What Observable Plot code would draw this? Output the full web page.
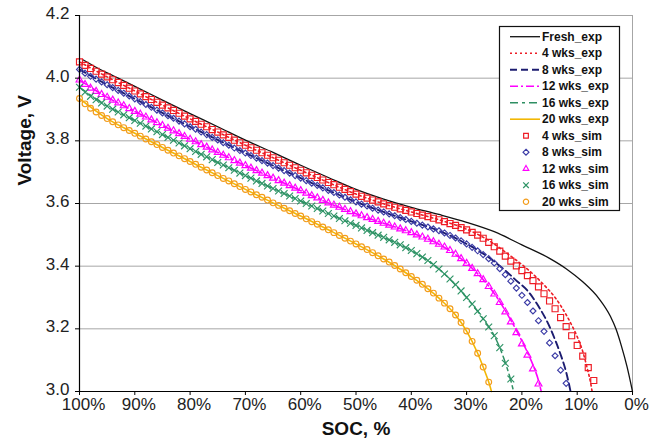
<!DOCTYPE html>
<html><head><meta charset="utf-8">
<script src="https://cdn.jsdelivr.net/npm/d3@7"></script>
<script src="https://cdn.jsdelivr.net/npm/@observablehq/plot@0.6"></script>
<style>
html,body{margin:0;padding:0;background:#fff;}
#chart{width:664px;height:448px;}
</style></head>
<body><div id="chart"></div>
<script>
// ---- axis ticks / titles ----
const xTickValues = [100, 90, 80, 70, 60, 50, 40, 30, 20, 10, 0];
const yTickValues = [3.0, 3.2, 3.4, 3.6, 3.8, 4.0, 4.2];
const xTitle = "SOC, %";
const yTitle = "Voltage, V";
const legendLabels = ["Fresh_exp", "4 wks_exp", "8 wks_exp", "12 wks_exp", "16 wks_exp", "20 wks_exp",
  "4 wks_sim", "8 wks_sim", "12 wks_sim", "16 wks_sim", "20 wks_sim"];

// ---- experimental curves (SOC %, voltage V) ----
const freshSOC = [99.3, 97, 95, 93, 90, 85, 80, 75, 70, 65, 60, 55, 50, 45, 40, 35, 30, 25, 20, 15, 12, 9, 6, 4, 3, 2, 1, 0];
const freshV   = [4.058, 4.035, 4.017, 4.000, 3.974, 3.930, 3.887, 3.845, 3.802, 3.763, 3.722, 3.683, 3.645, 3.614, 3.588, 3.565, 3.540, 3.510, 3.468, 3.425, 3.392, 3.350, 3.295, 3.240, 3.200, 3.145, 3.080, 3.000];

const exp4SOC = [100, 95, 90, 85, 80, 75, 70, 65, 60, 55, 50, 45, 40, 35, 30, 26, 22, 20, 18, 16, 14, 12, 11, 10, 9, 8.2, 7.6, 7.3];
const exp4V   = [4.052, 4.004, 3.959, 3.914, 3.870, 3.828, 3.786, 3.746, 3.706, 3.667, 3.630, 3.599, 3.573, 3.548, 3.518, 3.482, 3.432, 3.405, 3.375, 3.340, 3.300, 3.245, 3.212, 3.175, 3.128, 3.075, 3.030, 3.000];

const exp8SOC = [100, 95, 90, 85, 80, 75, 70, 65, 60, 55, 50, 45, 40, 35, 30, 27, 25, 23, 21, 19, 17, 15, 14, 13, 12, 11.5, 11.2];
const exp8V   = [4.028, 3.979, 3.934, 3.889, 3.845, 3.803, 3.761, 3.721, 3.681, 3.642, 3.605, 3.573, 3.543, 3.513, 3.471, 3.440, 3.415, 3.386, 3.354, 3.322, 3.272, 3.207, 3.165, 3.118, 3.062, 3.025, 3.000];

const exp12SOC = [100, 95, 90, 85, 80, 75, 70, 65, 60, 55, 50, 45, 40, 35, 30, 27, 25, 23, 21, 19, 18, 17, 16.5];
const exp12V   = [3.994, 3.939, 3.894, 3.849, 3.805, 3.763, 3.721, 3.681, 3.641, 3.602, 3.567, 3.537, 3.507, 3.470, 3.409, 3.357, 3.313, 3.258, 3.195, 3.125, 3.085, 3.035, 3.000];

const exp16SOC = [100, 95, 90, 85, 80, 75, 70, 65, 60, 55, 50, 45, 40, 35, 30, 27, 25, 24, 23, 22, 21.5];
const exp16V   = [3.971, 3.911, 3.865, 3.820, 3.775, 3.731, 3.689, 3.648, 3.608, 3.568, 3.530, 3.492, 3.450, 3.391, 3.300, 3.232, 3.178, 3.140, 3.092, 3.035, 3.000];

const exp20SOC = [100, 95, 90, 85, 80, 75, 70, 65, 60, 55, 50, 45, 40, 35, 32, 30, 28, 27, 26, 25.5];
const exp20V   = [3.935, 3.871, 3.824, 3.779, 3.734, 3.689, 3.645, 3.602, 3.560, 3.516, 3.471, 3.423, 3.367, 3.298, 3.244, 3.193, 3.122, 3.078, 3.030, 3.000];

// ---- simulated points: voltage at SOC = 100%, 99%, 98%, ... ----
const sim4V = [
 4.052, 4.041, 4.031, 4.022, 4.013, 4.004, 3.995, 3.986, 3.977, 3.968, 3.959,
 3.950, 3.941, 3.932, 3.923, 3.914, 3.905, 3.897, 3.888, 3.879, 3.870,
 3.862, 3.853, 3.845, 3.836, 3.828, 3.819, 3.811, 3.802, 3.794, 3.786,
 3.778, 3.770, 3.762, 3.754, 3.746, 3.738, 3.730, 3.722, 3.714, 3.706,
 3.698, 3.690, 3.683, 3.675, 3.667, 3.660, 3.652, 3.645, 3.638, 3.630,
 3.623, 3.617, 3.611, 3.605, 3.599, 3.593, 3.588, 3.583, 3.578, 3.573,
 3.568, 3.563, 3.558, 3.553, 3.548, 3.542, 3.536, 3.530, 3.523, 3.516,
 3.508, 3.499, 3.489, 3.476, 3.462, 3.448, 3.432, 3.416, 3.401, 3.386,
 3.370, 3.354, 3.334, 3.312, 3.289, 3.264, 3.236, 3.207, 3.178, 3.147,
 3.113, 3.076, 3.035];
const sim8V = [
 4.028, 4.016, 4.006, 3.997, 3.988, 3.979, 3.970, 3.961, 3.952, 3.943, 3.934,
 3.925, 3.916, 3.907, 3.898, 3.889, 3.880, 3.872, 3.863, 3.854, 3.845,
 3.837, 3.828, 3.820, 3.811, 3.803, 3.794, 3.786, 3.777, 3.769, 3.761,
 3.753, 3.745, 3.737, 3.729, 3.721, 3.713, 3.705, 3.697, 3.689, 3.681,
 3.673, 3.665, 3.658, 3.650, 3.642, 3.635, 3.627, 3.620, 3.612, 3.605,
 3.598, 3.592, 3.585, 3.579, 3.573, 3.567, 3.561, 3.555, 3.549, 3.543,
 3.537, 3.531, 3.525, 3.519, 3.513, 3.506, 3.498, 3.490, 3.481, 3.471,
 3.460, 3.449, 3.437, 3.424, 3.410, 3.392, 3.373, 3.352, 3.330, 3.307,
 3.284, 3.257, 3.226, 3.192, 3.155, 3.114, 3.068, 3.026];
const sim12V = [
 3.994, 3.980, 3.968, 3.958, 3.948, 3.939, 3.930, 3.921, 3.912, 3.903, 3.894,
 3.885, 3.876, 3.867, 3.858, 3.849, 3.840, 3.832, 3.823, 3.814, 3.805,
 3.797, 3.788, 3.780, 3.771, 3.763, 3.754, 3.746, 3.737, 3.729, 3.721,
 3.713, 3.705, 3.697, 3.689, 3.681, 3.673, 3.665, 3.657, 3.649, 3.641,
 3.633, 3.625, 3.618, 3.610, 3.602, 3.595, 3.588, 3.581, 3.574, 3.567,
 3.561, 3.555, 3.549, 3.543, 3.537, 3.531, 3.525, 3.519, 3.513, 3.507,
 3.500, 3.493, 3.486, 3.478, 3.470, 3.461, 3.450, 3.438, 3.424, 3.409,
 3.393, 3.376, 3.357, 3.335, 3.311, 3.284, 3.254, 3.222, 3.188, 3.152,
 3.116, 3.072, 3.024];
const sim16V = [
 3.971, 3.955, 3.942, 3.931, 3.921, 3.911, 3.901, 3.892, 3.883, 3.874, 3.865,
 3.856, 3.847, 3.838, 3.829, 3.820, 3.811, 3.802, 3.793, 3.784, 3.775,
 3.766, 3.757, 3.749, 3.740, 3.731, 3.723, 3.714, 3.706, 3.697, 3.689,
 3.681, 3.672, 3.664, 3.656, 3.648, 3.640, 3.632, 3.624, 3.616, 3.608,
 3.600, 3.592, 3.584, 3.576, 3.568, 3.560, 3.552, 3.545, 3.537, 3.530,
 3.522, 3.514, 3.507, 3.499, 3.492, 3.484, 3.476, 3.468, 3.459, 3.450,
 3.440, 3.429, 3.418, 3.405, 3.391, 3.375, 3.359, 3.341, 3.321, 3.300,
 3.279, 3.256, 3.232, 3.206, 3.178, 3.140, 3.090, 3.040];
const sim20V = [
 3.935, 3.918, 3.904, 3.892, 3.881, 3.871, 3.861, 3.851, 3.842, 3.833, 3.824,
 3.815, 3.806, 3.797, 3.788, 3.779, 3.770, 3.761, 3.752, 3.743, 3.734,
 3.725, 3.716, 3.707, 3.698, 3.689, 3.680, 3.672, 3.663, 3.654, 3.645,
 3.637, 3.628, 3.620, 3.611, 3.602, 3.594, 3.585, 3.577, 3.568, 3.560,
 3.551, 3.542, 3.534, 3.525, 3.516, 3.507, 3.498, 3.489, 3.480, 3.471,
 3.462, 3.453, 3.443, 3.433, 3.423, 3.413, 3.402, 3.391, 3.379, 3.367,
 3.355, 3.342, 3.328, 3.314, 3.298, 3.282, 3.264, 3.244, 3.220, 3.193,
 3.160, 3.122, 3.078, 3.030];
const simStartSOC = 100;

// ---- styles ----
const expStyles = [
  {soc: freshSOC, v: freshV, stroke: "#111111", dash: null, w: 1.3},
  {soc: exp4SOC,  v: exp4V,  stroke: "#ee1c25", dash: "2,3", w: 1.6},
  {soc: exp8SOC,  v: exp8V,  stroke: "#1c1c70", dash: "7,4", w: 1.9},
  {soc: exp12SOC, v: exp12V, stroke: "#ff00ff", dash: "8,3,2,3", w: 1.6},
  {soc: exp16SOC, v: exp16V, stroke: "#2e8f63", dash: "8,4,3,4", w: 1.5},
  {soc: exp20SOC, v: exp20V, stroke: "#f2b705", dash: null, w: 1.6}
];
const simStyles = [
  {v: sim4V,  stroke: "#ee1c25", symbol: "square",    r: 3.4, d3sym: d3.symbolSquare},
  {v: sim8V,  stroke: "#3b3ba6", symbol: "diamond2",  r: 2.7, d3sym: d3.symbolDiamond2},
  {v: sim12V, stroke: "#ff00ff", symbol: "triangle2", r: 3.3, d3sym: d3.symbolTriangle2},
  {v: sim16V, stroke: "#2e9466", symbol: "times",     r: 3.2, d3sym: d3.symbolTimes},
  {v: sim20V, stroke: "#f39c1a", symbol: "circle",    r: 2.9, d3sym: d3.symbolCircle}
];

const expMarks = expStyles.map(s => Plot.line(d3.range(s.soc.length), {
  x: i => s.soc[i], y: i => s.v[i], stroke: s.stroke, strokeWidth: s.w,
  strokeDasharray: s.dash || undefined, curve: "monotone-x"
}));
const simMarks = simStyles.map(s => Plot.dot(d3.range(s.v.length), {
  x: i => simStartSOC - i, y: i => s.v[i], symbol: s.symbol, r: s.r,
  stroke: s.stroke, fill: "none", strokeWidth: 1.15
}));

const chart = Plot.plot({
  width: 664, height: 448,
  marginLeft: 79, marginRight: 32, marginTop: 15, marginBottom: 57,
  x: {domain: [100, 0], range: [79, 632]},
  y: {domain: [3.0, 4.2]},
  style: {fontFamily: "'Liberation Sans', Arial, sans-serif", fontSize: "17px", color: "#222", background: "#fff"},
  marks: [
    Plot.gridY(yTickValues, {stroke: "#a6a6a6", strokeOpacity: 1, strokeWidth: 1}),
    Plot.ruleX([0], {stroke: "#a6a6a6", strokeWidth: 1}),
    ...expMarks,
    ...simMarks,
    Plot.ruleX([100], {stroke: "#000", strokeWidth: 1.2}),
    Plot.ruleY([3.0], {stroke: "#000", strokeWidth: 1.2}),
    Plot.axisX({ticks: xTickValues, tickFormat: () => "", tickSize: 4, label: null, stroke: "#000"}),
    Plot.text(xTickValues, {x: d => d, frameAnchor: "bottom", dy: 18, dx: 4, text: d => d + "%", fontSize: 17, fill: "#222"}),
    Plot.axisY({ticks: yTickValues, tickFormat: () => "", tickSize: 4, label: null, stroke: "#000"}),
    Plot.text(yTickValues, {y: d => d, frameAnchor: "left", dx: -10, dy: -2, textAnchor: "end", text: d => d.toFixed(1), fontSize: 17, fill: "#222"}),
    Plot.text([xTitle], {frameAnchor: "bottom", dy: 43, fontWeight: "bold", fontSize: 19, fill: "#111"}),
    Plot.text([yTitle], {frameAnchor: "left", dx: -55, dy: -18, rotate: -90, fontWeight: "bold", fontSize: 19, fill: "#111"})
  ]
});
document.getElementById("chart").appendChild(chart);

// ---- legend (inside plot area, top right) ----
const svg = d3.select(chart);
const lg = svg.append("g").attr("font-family", "'Liberation Sans', Arial, sans-serif");
lg.append("rect").attr("x", 499.5).attr("y", 26.5).attr("width", 120).attr("height", 184)
  .attr("fill", "#fff").attr("stroke", "#111").attr("stroke-width", 1.2);
legendLabels.forEach((label, i) => {
  const y = 36.7 + i * 16.5;
  if (i < expStyles.length) {
    const s = expStyles[i];
    lg.append("line").attr("x1", 510).attr("x2", 540).attr("y1", y).attr("y2", y)
      .attr("stroke", s.stroke).attr("stroke-width", s.w)
      .attr("stroke-dasharray", s.dash || null);
  } else {
    const s = simStyles[i - expStyles.length];
    lg.append("path").attr("transform", `translate(526,${y})`)
      .attr("d", d3.symbol(s.d3sym, 22)()).attr("fill", "none")
      .attr("stroke", s.stroke).attr("stroke-width", 1.2);
  }
  lg.append("text").attr("x", 542).attr("y", y).attr("dy", "0.35em")
    .attr("text-anchor", "start")
    .attr("font-size", 12).attr("font-weight", "bold").attr("fill", "#111").text(label);
});
</script>
</body></html>
